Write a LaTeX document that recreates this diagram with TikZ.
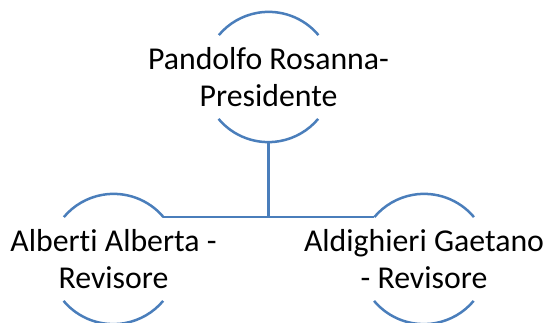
\documentclass[tikz,border=0pt]{standalone}
\usepackage{fontspec}
\setmainfont[Ligatures={NoCommon,NoDiscretionary,NoContextual}]{Carlito}
\definecolor{arcblue}{HTML}{4A7EBB}
\begin{document}
\begin{tikzpicture}[x=1pt,y=1pt,
  ring/.style={circle, minimum size=130pt, inner sep=0pt},
  label/.style={align=center, inner sep=0pt, font=\fontsize{31.8}{37}\selectfont},
  arcline/.style={draw=arcblue, line width=2.5pt},
  link/.style={draw=arcblue, line width=2.5pt}]
\useasboundingbox (0,0) rectangle (548,323);
\node[ring] (top) at (268.5,246) {};
\node[ring] (left) at (113.5,64) {};
\node[ring] (right) at (424,64) {};
\foreach \n in {top,left,right}{
  \draw[arcline] (\n.40) arc (40:140:65pt);
  \draw[arcline] (\n.220) arc (220:320:65pt);
}
\node[label] (ttop) at (top.center) {Pandolfo Rosanna-\\Presidente};
\node[label] (tleft) at (left.center) {Alberti Alberta -\\Revisore};
\node[label] (tright) at (right.center) {Aldighieri Gaetano\\- Revisore};
\coordinate (j) at (268.5,105);
\draw[link] (top.south) -- (j);
\draw[link, line join=round] (left.40) -- (right.140);
\end{tikzpicture}
\end{document}
